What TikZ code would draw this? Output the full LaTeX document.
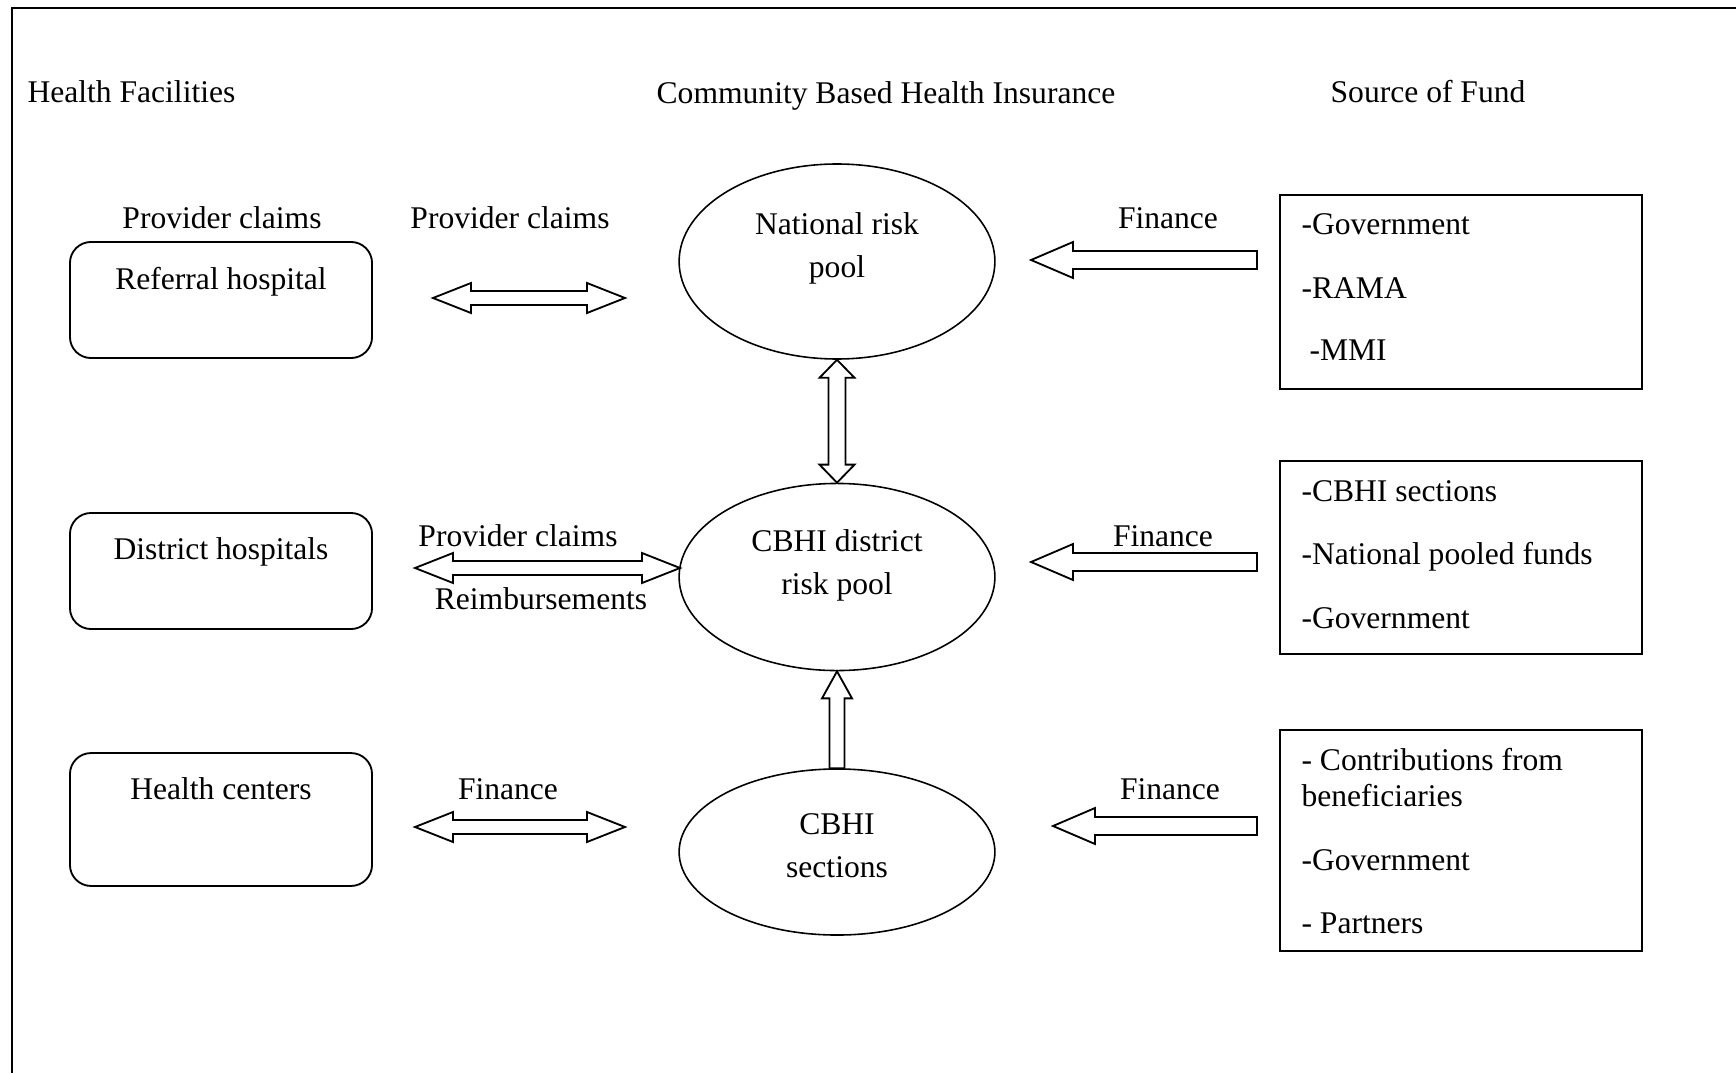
\documentclass[tikz,border=0pt]{standalone}
\usepackage{fontspec}
\setmainfont{Liberation Serif}
\usetikzlibrary{shapes.geometric,calc}
\begin{document}
\begin{tikzpicture}[
    x=0.38pt, y=-0.38pt,
    font=\fontsize{12}{16.3}\selectfont,
    facility/.style = { draw, rounded corners=8pt, inner sep=0pt, minimum width=114.8pt, line width=0.7pt },
    pool/.style = { draw, ellipse, inner sep=0pt, minimum width=120pt, line width=0.6pt },
    fund/.style = { draw, inner sep=0pt, minimum width=137.6pt, line width=0.7pt },
    item/.style = { anchor=west, inner sep=0pt },
    blockarrow/.style = { draw, line width=0.7pt, line join=miter },
    ]
    \useasboundingbox (0,0) rectangle (1736,1073);

    % frame
    \draw[line width=0.9pt] (12,1073) -- (12,8) -- (1736,8);

    % column headings
    \node[anchor=west, inner sep=0pt] (hfac) at (27,92) {Health Facilities};
    \node (hcbhi) at (886,96) {Community Based Health Insurance};
    \node (hfund) at (1428,92) {Source of Fund};

    % health facilities
    \node[facility, minimum height=44.1pt] (ref) at (221,300) {};
    \node[facility, minimum height=44.1pt] (dis) at (221,571) {};
    \node[facility, minimum height=50.5pt] (hc)  at (221,819.5) {};
    \node (reftxt) at (221,282) {Referral hospital};
    \node (distxt) at (221,552) {District hospitals};
    \node (hctxt)  at (221,789) {Health centers};
    \node (refclaim) at (222,218) {Provider claims};

    % risk pools
    \node[pool, minimum height=74.1pt] (nat)  at (837,261.5) {};
    \node[pool, minimum height=71.1pt] (dist) at (837,577) {};
    \node[pool, minimum height=63.1pt] (sec)  at (837,852) {};
    \node[align=center] (nattxt)  at (837,248.5) {National risk\\pool};
    \node[align=center] (disttxt) at (837,565.5) {CBHI district\\risk pool};
    \node[align=center] (sectxt)  at (837,846) {CBHI\\sections};

    % sources of fund
    \node[fund, minimum height=73.7pt] (src1) at (1461,292) {};
    \node[fund, minimum height=73.3pt] (src2) at (1461,557.5) {};
    \node[fund, minimum height=84pt]   (src3) at (1461,840.5) {};
    \node[item] (gov1) at (1301,224) {-Government};
    \node[item] (rama) at (1301,288) {-RAMA};
    \node[item] (mmi)  at (1309,350) {-MMI};
    \node[item] (cbhis) at (1301,491) {-CBHI sections};
    \node[item] (npf)   at (1301,557) {-National pooled funds};
    \node[item] (gov2)  at (1301,618) {-Government};
    \node[item, align=left, font=\fontsize{12}{13.7}\selectfont] (contr) at (1301,778) {- Contributions from\\beneficiaries};
    \node[item] (gov3)  at (1301,860) {-Government};
    \node[item] (partn) at (1301,923) {- Partners};

    % arrow ends
    \coordinate (a1l) at (433,298);
    \coordinate (a1r) at (625,298);
    \coordinate (a2l) at (415,568);
    \coordinate (a2r) at (680,568);
    \coordinate (a3l) at (415,827);
    \coordinate (a3r) at (625,827);
    \coordinate (f1tip) at (1031,260);
    \coordinate (f1end) at (1257,260);
    \coordinate (f2tip) at (1031,562);
    \coordinate (f2end) at (1257,562);
    \coordinate (f3tip) at (1053,826);
    \coordinate (f3end) at (1257,826);

    % claims and reimbursements
    \draw[blockarrow] (a1l) -- ++(38,-15) -- ++(0,8) -- ($(a1r)+(-38,-7)$) -- ++(0,-8) -- (a1r)
        -- ++(-38,15) -- ++(0,-8) -- ($(a1l)+(38,7)$) -- ++(0,8) -- cycle;
    \draw[blockarrow] (a2l) -- ++(38,-15) -- ++(0,8) -- ($(a2r)+(-38,-7)$) -- ++(0,-8) -- (a2r)
        -- ++(-38,15) -- ++(0,-8) -- ($(a2l)+(38,7)$) -- ++(0,8) -- cycle;
    \draw[blockarrow] (a3l) -- ++(38,-15) -- ++(0,8) -- ($(a3r)+(-38,-7)$) -- ++(0,-8) -- (a3r)
        -- ++(-38,15) -- ++(0,-8) -- ($(a3l)+(38,7)$) -- ++(0,8) -- cycle;
    \node (lab1) at (510,218) {Provider claims};
    \node (lab2) at (518,536) {Provider claims};
    \node (lab3) at (541,599) {Reimbursements};
    \node (lab4) at (508,789) {Finance};

    % between the pools
    \draw[blockarrow] (nat.south) -- ++(17.5,18) -- ++(-9,0) -- ($(dist.north)+(8.5,-18)$) -- ++(9,0)
        -- (dist.north) -- ++(-17.5,-18) -- ++(9,0) -- ($(nat.south)+(-8.5,18)$) -- ++(-9,0) -- cycle;
    \draw[blockarrow] (dist.south) -- ++(15,27) -- ++(-7.5,0) -- ($(sec.north)+(7.5,0)$)
        -- ++(-15,0) -- ($(dist.south)+(-7.5,27)$) -- ++(-7.5,0) -- cycle;

    % finance
    \draw[blockarrow] (f1tip) -- ++(42,-18) -- ++(0,9) -- ($(f1end)+(0,-9)$) -- ++(0,18)
        -- ($(f1tip)+(42,9)$) -- ++(0,9) -- cycle;
    \draw[blockarrow] (f2tip) -- ++(42,-18) -- ++(0,9) -- ($(f2end)+(0,-9)$) -- ++(0,18)
        -- ($(f2tip)+(42,9)$) -- ++(0,9) -- cycle;
    \draw[blockarrow] (f3tip) -- ++(42,-18) -- ++(0,9) -- ($(f3end)+(0,-9)$) -- ++(0,18)
        -- ($(f3tip)+(42,9)$) -- ++(0,9) -- cycle;
    \node (fin1) at (1168,218) {Finance};
    \node (fin2) at (1163,536) {Finance};
    \node (fin3) at (1170,789) {Finance};

  \end{tikzpicture}
\end{document}
